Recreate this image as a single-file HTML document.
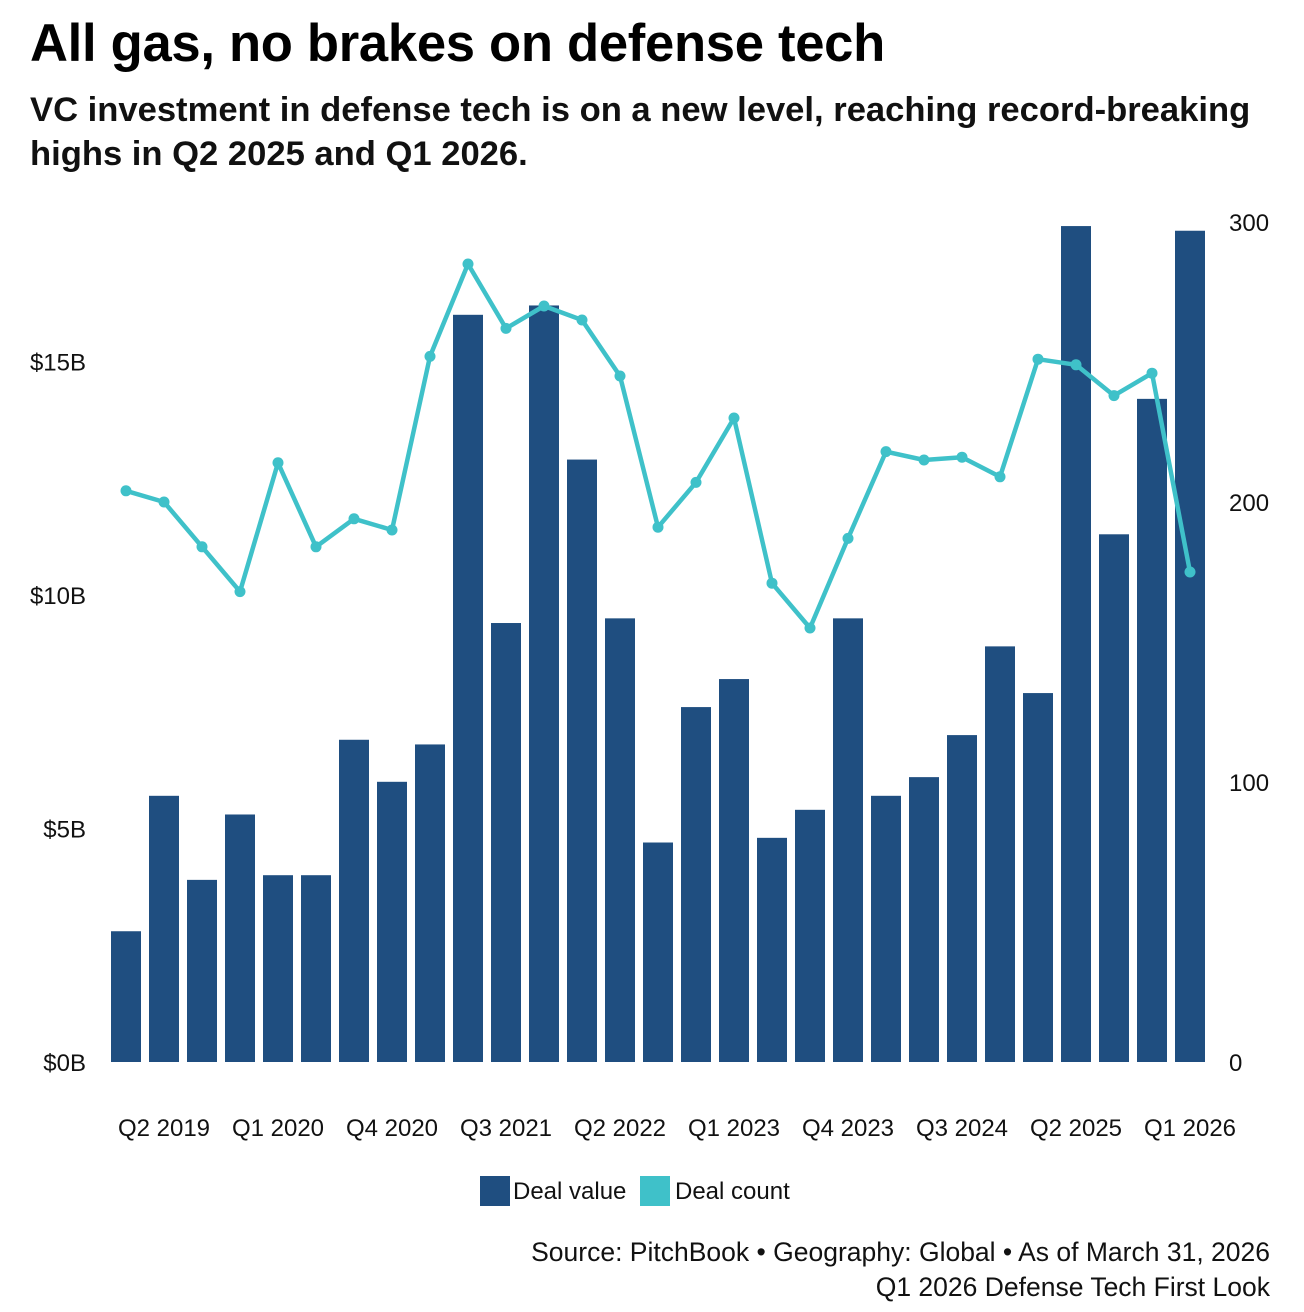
<!DOCTYPE html>
<html><head><meta charset="utf-8"><style>
html,body{margin:0;padding:0;background:#fff;}
body{width:1304px;height:1312px;overflow:hidden;font-family:"Liberation Sans",sans-serif;}
#title{position:absolute;left:30px;top:13px;font-size:52.6px;font-weight:bold;color:#000;margin:0;letter-spacing:-0.3px;}
#subtitle{position:absolute;left:30px;top:88px;width:1270px;font-size:34.6px;font-weight:bold;color:#111;line-height:44px;margin:0;}
svg{position:absolute;left:0;top:0;}
.tk{font-family:"Liberation Sans Narrow","Liberation Sans",sans-serif;font-size:24px;fill:#111;}
.ft{font-family:"Liberation Sans",sans-serif;font-size:26.5px;fill:#111;}
</style></head><body>
<h1 id="title">All gas, no brakes on defense tech</h1>
<p id="subtitle">VC investment in defense tech is on a new level, reaching record-breaking highs in Q2 2025 and Q1 2026.</p>
<svg id="chart" width="1304" height="1312"></svg>
<script>
const quarters=["Q1 2019","Q2 2019","Q3 2019","Q4 2019","Q1 2020","Q2 2020","Q3 2020","Q4 2020","Q1 2021","Q2 2021","Q3 2021","Q4 2021","Q1 2022","Q2 2022","Q3 2022","Q4 2022","Q1 2023","Q2 2023","Q3 2023","Q4 2023","Q1 2024","Q2 2024","Q3 2024","Q4 2024","Q1 2025","Q2 2025","Q3 2025","Q4 2025","Q1 2026"];
const dealValue=[2.8,5.7,3.9,5.3,4.0,4.0,6.9,6.0,6.8,16.0,9.4,16.2,12.9,9.5,4.7,7.6,8.2,4.8,5.4,9.5,5.7,6.1,7.0,8.9,7.9,17.9,11.3,14.2,17.8];
const dealCount=[204,200,184,168,214,184,194,190,252,285,262,270,265,245,191,207,230,171,155,187,218,215,216,209,251,249,238,246,175];
const leftTicks=[0,5,10,15];
const leftTickLabels=["$0B","$5B","$10B","$15B"];
const rightTicks=[0,100,200,300];
const xLabelEvery=3;

const svg=document.getElementById('chart');
const NS="http://www.w3.org/2000/svg";
const baseY=1062, x0=126, step=38, bw=30;
const yL=v=>baseY-v*46.7;
const yR=v=>baseY-v*2.8;
const xS=i=>x0+i*step;
function mk(tag,attrs,parent){const e=document.createElementNS(NS,tag);for(const k in attrs)e.setAttribute(k,attrs[k]);(parent||svg).appendChild(e);return e;}

const gBars=mk('g',{});


dealValue.forEach((v,i)=>{
  const r=mk('rect',{x:xS(i)-bw/2,y:yL(v),width:bw,height:baseY-yL(v),fill:'#1f4e80'},gBars);
  
  
});
const pts=dealCount.map((c,i)=>xS(i)+','+yR(c)).join(' ');
const line=mk('polyline',{points:pts,fill:'none',stroke:'#3fc1c9','stroke-width':4.5,'stroke-linejoin':'round'});


dealCount.forEach((c,i)=>{
  const p=mk('circle',{cx:xS(i),cy:yR(c),r:5.5,fill:'#3fc1c9'});
  
  
});
leftTicks.forEach((v,i)=>{
  const t=mk('text',{x:86,y:yL(v)+9,'text-anchor':'end',class:'tk'});
  t.textContent=leftTickLabels[i];
  
  
});
rightTicks.forEach(v=>{
  const t=mk('text',{x:1229,y:yR(v)+9,'text-anchor':'start',class:'tk'});
  t.textContent=String(v);
  
  
});
quarters.forEach((q,i)=>{
  if(i%xLabelEvery!==1)return;
  const t=mk('text',{x:xS(i),y:1136,'text-anchor':'middle',class:'tk'});
  t.textContent=q;
  
  
});
const lg=mk('g',{});


const l1=mk('rect',{x:480,y:1176,width:30,height:30,fill:'#1f4e80'},lg);


const t1=mk('text',{x:513,y:1199,class:'tk'},lg);t1.textContent='Deal value';


const l2=mk('rect',{x:640,y:1176,width:30,height:30,fill:'#3fc1c9'},lg);


const t2=mk('text',{x:675,y:1199,class:'tk'},lg);t2.textContent='Deal count';


const s1=mk('text',{x:1270,y:1261,'text-anchor':'end',class:'ft'});
s1.textContent='Source: PitchBook • Geography: Global • As of March 31, 2026';


const s2=mk('text',{x:1270,y:1296,'text-anchor':'end',class:'ft'});
s2.textContent='Q1 2026 Defense Tech First Look';


</script>
</body></html>
